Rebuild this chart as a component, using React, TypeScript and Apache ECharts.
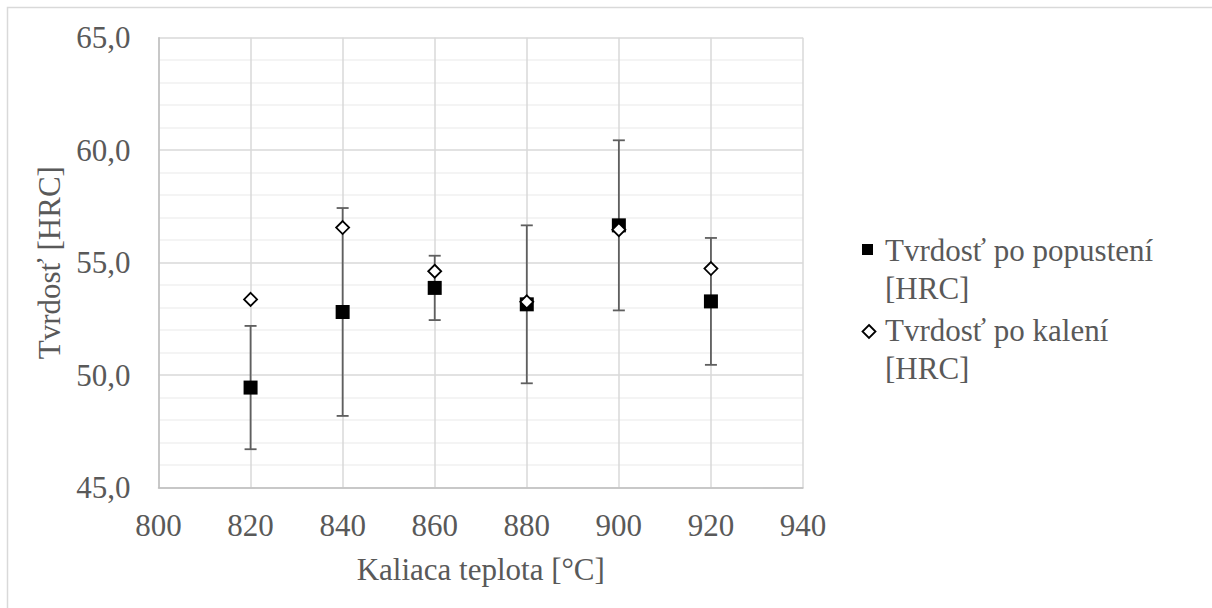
import React, { useEffect, useRef } from "react";
import * as echarts from "echarts";

const temps = [820, 840, 860, 880, 900, 920];
const popustenie = [49.45, 52.81, 53.88, 53.15, 56.66, 53.28];
const kalenie = [53.37, 56.56, 54.62, 53.26, 56.47, 54.74];
const popustenieErr = [2.74, 4.62, 1.43, 3.51, 3.78, 2.82];
const xTicks = { min: 800, max: 940, step: 20 };
const yTicks = { min: 45, max: 65, step: 5 };
const seriesNames = ["Tvrdosť po popustení [HRC]", "Tvrdosť po kalení [HRC]"];
const legendLines = [
  ["Tvrdosť po popustení", "[HRC]"],
  ["Tvrdosť po kalení", "[HRC]"],
];
const xTitle = "Kaliaca teplota [°C]";
const yTitle = "Tvrdosť [HRC]";

const FONT = "Liberation Serif";
const TXT = "#595959";
const FS = 31;

export default function App() {
  const ref = useRef<HTMLDivElement>(null);
  useEffect(() => {
    if (!ref.current) return;
    const chart = echarts.init(ref.current, null, { renderer: "svg" });
    const errData = temps.map((t, i) => [t, popustenie[i] - popustenieErr[i], popustenie[i] + popustenieErr[i]]);
    chart.setOption({
      animation: false,
      backgroundColor: "#ffffff",
      textStyle: { fontFamily: FONT },
      grid: { left: 158.5, top: 37.7, right: 409, bottom: 120.3, containLabel: false },
      xAxis: {
        type: "value",
        min: xTicks.min,
        max: xTicks.max,
        interval: xTicks.step,
        name: xTitle,
        nameLocation: "middle",
        nameGap: 66,
        nameTextStyle: { color: TXT, fontSize: FS, fontFamily: FONT },
        axisLine: { show: true, lineStyle: { color: "#bfbfbf", width: 1.5 } },
        axisTick: { show: false },
        axisLabel: { color: TXT, fontSize: FS, fontFamily: FONT, margin: 22 },
        splitLine: { show: true, lineStyle: { color: "#d9d9d9", width: 1.5 } },
      },
      yAxis: {
        type: "value",
        min: yTicks.min,
        max: yTicks.max,
        interval: yTicks.step,
        name: yTitle,
        nameLocation: "middle",
        nameGap: 92,
        nameRotate: 90,
        nameTextStyle: { color: TXT, fontSize: FS, fontFamily: FONT },
        axisLine: { show: true, lineStyle: { color: "#bfbfbf", width: 1.5 } },
        axisTick: { show: false },
        axisLabel: {
          color: TXT,
          fontSize: FS,
          fontFamily: FONT,
          margin: 28,
          formatter: (v: number) => v.toFixed(1).replace(".", ","),
        },
        splitLine: { show: true, lineStyle: { color: "#d9d9d9", width: 1.5 } },
        minorTick: { show: false, splitNumber: 5 },
        minorSplitLine: { show: true, lineStyle: { color: "#f0f0f0", width: 1.5 } },
      },
      series: [
        {
          type: "custom",
          name: "err",
          z: 1,
          data: errData,
          renderItem: (params: any, api: any) => {
            const x = api.value(0);
            const lo = api.coord([x, api.value(1)]);
            const hi = api.coord([x, api.value(2)]);
            const hw = 6;
            const st = { stroke: "#5f5f5f", lineWidth: 1.8 };
            return {
              type: "group",
              children: [
                { type: "line", shape: { x1: lo[0], y1: lo[1], x2: hi[0], y2: hi[1] }, style: st },
                { type: "line", shape: { x1: lo[0] - hw, y1: lo[1], x2: lo[0] + hw, y2: lo[1] }, style: st },
                { type: "line", shape: { x1: hi[0] - hw, y1: hi[1], x2: hi[0] + hw, y2: hi[1] }, style: st },
              ],
            };
          },
        },
        {
          type: "scatter",
          name: seriesNames[0],
          z: 3,
          symbol: "rect",
          symbolSize: 14,
          itemStyle: { color: "#000000", opacity: 1 },
          data: temps.map((t, i) => [t, popustenie[i]]),
        },
        {
          type: "scatter",
          name: seriesNames[1],
          z: 4,
          symbol: "diamond",
          symbolSize: 13,
          itemStyle: { color: "#ffffff", borderColor: "#000000", borderWidth: 1.8, opacity: 1 },
          data: temps.map((t, i) => [t, kalenie[i]]),
        },
      ],
      graphic: [
        {
          type: "rect",
          z: -10,
          shape: { x: 7.5, y: 7.5, width: 1220, height: 620 },
          style: { fill: "none", stroke: "#d9d9d9", lineWidth: 1.5 },
        },
        {
          type: "rect",
          shape: { x: 862, y: 244, width: 11, height: 11 },
          style: { fill: "#000000" },
        },
        {
          type: "polygon",
          shape: { points: [[869, 325], [875.5, 331.5], [869, 338], [862.5, 331.5]] },
          style: { fill: "#ffffff", stroke: "#000000", lineWidth: 1.8 },
        },
        {
          type: "text",
          x: 885,
          y: 269,
          style: {
            text: legendLines[0].join("\n"),
            fill: TXT,
            fontSize: FS,
            fontFamily: FONT,
            lineHeight: 38,
            verticalAlign: "middle",
          },
        },
        {
          type: "text",
          x: 885,
          y: 349,
          style: {
            text: legendLines[1].join("\n"),
            fill: TXT,
            fontSize: FS,
            fontFamily: FONT,
            lineHeight: 38,
            verticalAlign: "middle",
          },
        },
      ],
    });
    return () => chart.dispose();
  }, []);
  return (
    <div
      ref={ref}
      style={{ position: "fixed", left: 0, top: 0, width: 1212, height: 608, background: "#fff" }}
    />
  );
}
